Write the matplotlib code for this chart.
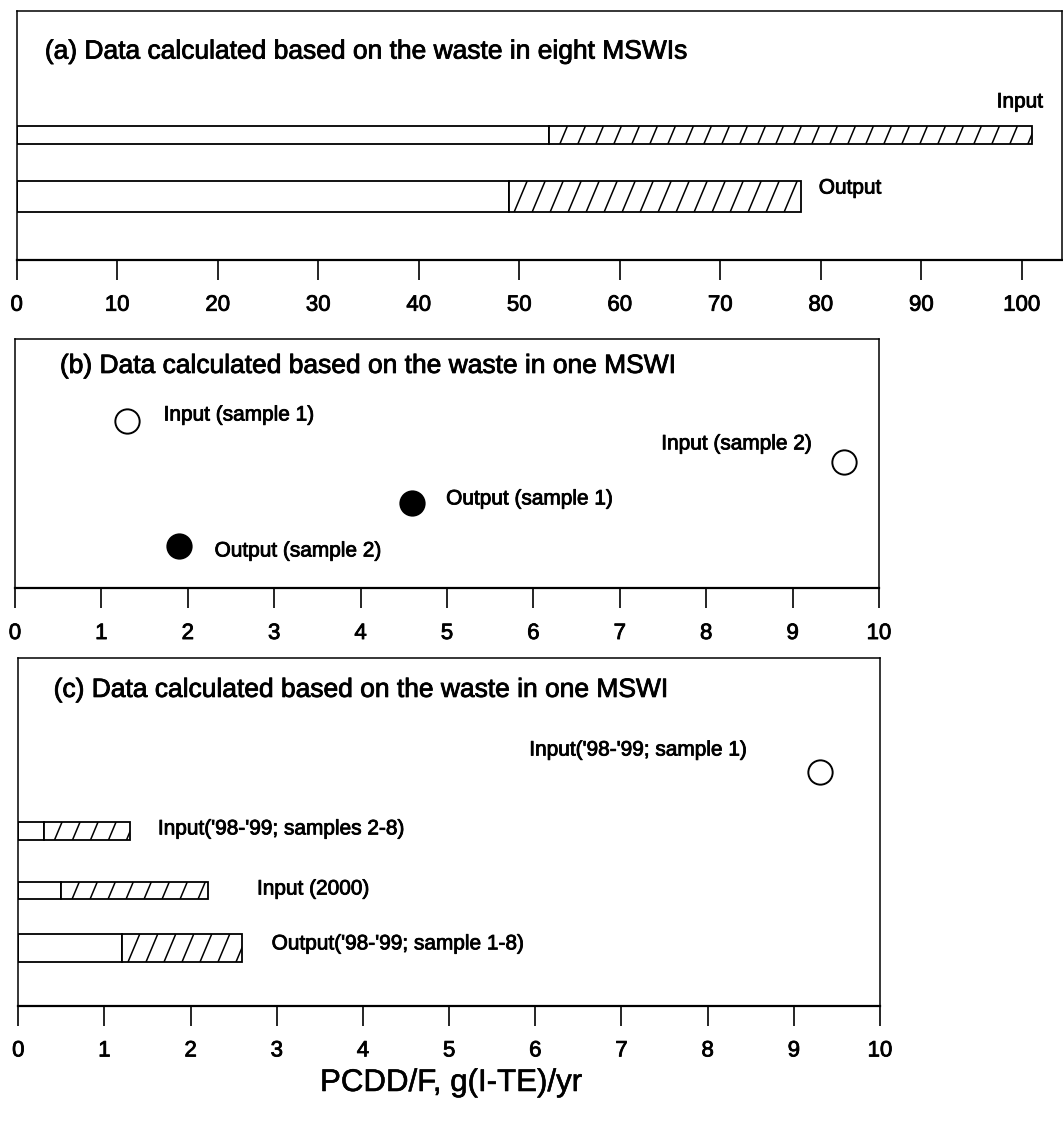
import matplotlib
matplotlib.use("Agg")
import matplotlib.pyplot as plt
import matplotlib.patheffects as pe
from matplotlib.collections import LineCollection
from matplotlib.transforms import IdentityTransform

plt.rcParams["font.family"] = ["Liberation Sans", "DejaVu Sans"]

# ---- data -------------------------------------------------------------
# (a) eight MSWIs: stacked bar = plain part + hatched part up to total
a_labels = ["Input", "Output"]
a_base = [53, 49]
a_total = [101, 78]

# (b) one MSWI, single samples
b_labels = ["Input (sample 1)", "Input (sample 2)",
            "Output (sample 1)", "Output (sample 2)"]
b_values = [1.3, 9.6, 4.6, 1.9]
b_filled = [False, False, True, True]

# (c) one MSWI, ranges and one single sample
c_bar_labels = ["Input('98-'99; samples 2-8)", "Input (2000)",
                "Output('98-'99; sample 1-8)"]
c_base = [0.3, 0.5, 1.2]
c_total = [1.3, 2.2, 2.6]
c_point_label = "Input('98-'99; sample 1)"
c_point_value = 9.3

a_ticks = list(range(0, 101, 10))
bc_ticks = list(range(0, 11))

titles = ["(a) Data calculated based on the waste in eight MSWIs",
          "(b) Data calculated based on the waste in one MSWI",
          "(c) Data calculated based on the waste in one MSWI"]
xlabel = "PCDD/F, g(I-TE)/yr"

# ---- layout -----------------------------------------------------------
W, H = 1063, 1121
fig = plt.figure(figsize=(W / 100, H / 100), dpi=100)
fig.patch.set_facecolor("white")

TITLE_FS = 19
TICK_FS = 16
NOTE_FS = 15
HEAVY = [pe.withStroke(linewidth=0.6, foreground="black")]


def axes_px(left, top, right, bottom):
    return fig.add_axes([left / W, 1 - bottom / H,
                         (right - left) / W, (bottom - top) / H])


def style(ax, xlim, ticks):
    ax.set_xlim(*xlim)
    ax.set_ylim(0, 1)
    ax.set_xticks(ticks)
    ax.set_yticks([])
    for s in ax.spines.values():
        s.set_linewidth(1.1)
        s.set_color("black")
    ax.spines["bottom"].set_linewidth(1.6)
    ax.tick_params(axis="x", direction="out", length=14.5, width=1.2,
                   pad=10.5, labelsize=TICK_FS, colors="black")
    for lab in ax.get_xticklabels():
        lab.set_path_effects(HEAVY)


def note(ax, x, y, s, fs=NOTE_FS):
    ax.text(x, y, s, fontsize=fs, va="center", ha="left", path_effects=HEAVY)


def steep_hatch(ax, rect, spacing=18.0, lean=0.42, lw=1.1):
    # diagonal fill lines, steeper than the built-in hatch
    (x0, y0) = ax.transData.transform((rect.get_x(), rect.get_y()))
    (x1, y1) = ax.transData.transform((rect.get_x() + rect.get_width(),
                                       rect.get_y() + rect.get_height()))
    h = y1 - y0
    segs = []
    xs = x0 - lean * h
    while xs < x1:
        segs.append([(xs, y0), (xs + lean * h, y1)])
        xs += spacing
    lc = LineCollection(segs, colors="black", linewidths=lw,
                        transform=IdentityTransform())
    ax.add_collection(lc)
    lc.set_clip_path(rect)


def stacked(ax, y, base, total, height):
    ax.barh(y, base, height=height, left=0, color="white",
            edgecolor="black", linewidth=1.3, zorder=2)
    bars = ax.barh(y, total - base, height=height, left=base,
                   color="white", edgecolor="black", linewidth=1.3, zorder=2)
    steep_hatch(ax, bars.patches[0])


# (a)
ax_a = axes_px(16.7, 11, 1062, 260)
style(ax_a, (0, 104.0), a_ticks)
a_y = [0.502, 0.255]
a_h = [0.072, 0.125]
a_label_xy = [(97.5, 0.635), (79.8, 0.289)]
for lab, b, t, y, h, (lx, ly) in zip(a_labels, a_base, a_total, a_y, a_h,
                                      a_label_xy):
    stacked(ax_a, y, b, t, h)
    note(ax_a, lx, ly, lab)
note(ax_a, 2.8, 0.837, titles[0], TITLE_FS)

# (b)
ax_b = axes_px(15, 339.3, 879, 588.3)
style(ax_b, (0, 10), bc_ticks)
b_y = [0.673, 0.508, 0.341, 0.171]
b_label_xy = [(1.72, 0.696), (7.48, 0.58), (4.99, 0.359), (2.31, 0.15)]
for lab, v, filled, y, (lx, ly) in zip(b_labels, b_values, b_filled, b_y,
                                       b_label_xy):
    ax_b.plot([v], [y], marker="o", markersize=17.5, linestyle="none",
              markerfacecolor="black" if filled else "white",
              markeredgecolor="black", markeredgewidth=1.4, zorder=3)
    note(ax_b, lx, ly, lab)
note(ax_b, 0.52, 0.893, titles[1], TITLE_FS)

# (c)
ax_c = axes_px(18.3, 658.3, 880, 1005.7)
style(ax_c, (0, 10), bc_ticks)
c_y = [0.503, 0.332, 0.1655]
c_h = [0.053, 0.050, 0.081]
c_label_xy = [(1.62, 0.509), (2.77, 0.336), (2.94, 0.178)]
for lab, b, t, y, h, (lx, ly) in zip(c_bar_labels, c_base, c_total, c_y, c_h,
                                      c_label_xy):
    stacked(ax_c, y, b, t, h)
    note(ax_c, lx, ly, lab)
ax_c.plot([c_point_value], [0.674], marker="o", markersize=17.5,
          linestyle="none", markerfacecolor="white", markeredgecolor="black",
          markeredgewidth=1.4, zorder=3)
note(ax_c, 5.93, 0.736, c_point_label)
note(ax_c, 0.41, 0.909, titles[2], TITLE_FS)

fig.text(451 / W, 1 - 1083 / H, xlabel, fontsize=22.5, ha="center",
         va="center", path_effects=[pe.withStroke(linewidth=0.4,
                                                  foreground="black")])

fig.savefig("out.png", dpi=100, facecolor="white")
